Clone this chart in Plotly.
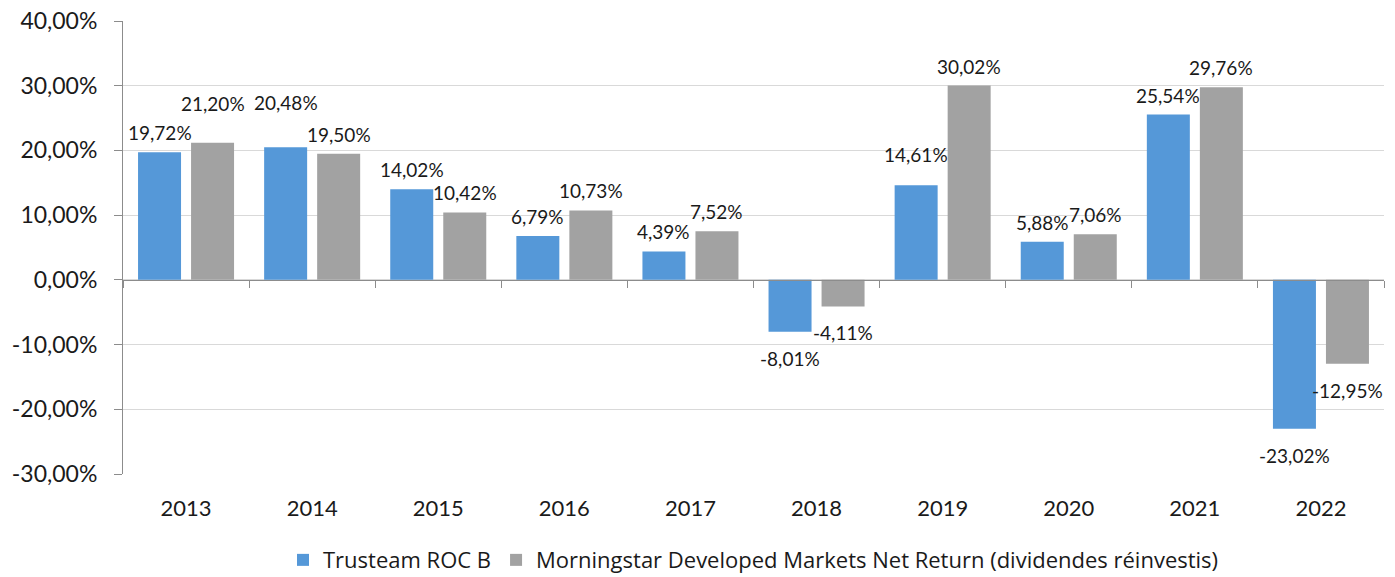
import plotly.graph_objects as go

years = ["2013", "2014", "2015", "2016", "2017", "2018", "2019", "2020", "2021", "2022"]
trusteam = [19.72, 20.48, 14.02, 6.79, 4.39, -8.01, 14.61, 5.88, 25.54, -23.02]
morningstar = [21.20, 19.50, 10.42, 10.73, 7.52, -4.11, 30.02, 7.06, 29.76, -12.95]
series_names = ["Trusteam ROC B", "Morningstar Developed Markets Net Return (dividendes réinvestis)"]
y_ticks = [-30, -20, -10, 0, 10, 20, 30, 40]


def pct(v):
    return f"{v:.2f}".replace(".", ",") + "%"


FONT = "Lato"
TXT = "#1a1a1a"
BARGAP = 0.159
BARGROUPGAP = 0.189
colors = ["#5598D8", "#A2A2A2"]
# extra upward pixel nudges for labels moved in the original to avoid collisions
label_nudge = {(1, "2013"): 20, (0, "2014"): 25, (0, "2019"): 11}

fig = go.Figure()
for name, vals, col in zip(series_names, [trusteam, morningstar], colors):
    fig.add_trace(go.Bar(
        x=years, y=vals, name=name,
        marker=dict(color=col, line=dict(width=0)),
        hovertemplate="%{x}: %{y:.2f}%<extra></extra>",
    ))

# data labels as annotations on the linear overlay axis (category index units)
slot = (1 - BARGAP) / 2
offsets = [-slot / 2, slot / 2]
annotations = []
for k, (vals, off) in enumerate(zip([trusteam, morningstar], offsets)):
    for i, v in enumerate(vals):
        pos = v >= 0
        annotations.append(dict(
            x=i + off, y=v, xref="x2", yref="y",
            text=pct(v), showarrow=False,
            yanchor="bottom" if pos else "top",
            yshift=(6 + label_nudge.get((k, years[i]), 0)) if pos else -13,
            font=dict(family=FONT, size=19, color=TXT),
        ))

zero_pos = (0 - y_ticks[0]) / (y_ticks[-1] - y_ticks[0])

fig.update_layout(
    width=1395, height=577,
    margin=dict(l=123, r=11, t=21, b=103, autoexpand=False),
    paper_bgcolor="white", plot_bgcolor="white",
    barmode="group", bargap=BARGAP, bargroupgap=BARGROUPGAP,
    font=dict(family=FONT, color=TXT),
    showlegend=True,
    legend=dict(orientation="h", x=0.5, xanchor="center", y=-0.19, yanchor="middle",
                font=dict(family="Open Sans", size=22, color=TXT),
                traceorder="normal"),
    annotations=annotations,
    xaxis=dict(type="category", showline=False, showgrid=False, ticks="", automargin=False,
               tickfont=dict(family=FONT, size=22, color=TXT), ticklabelstandoff=19),
    xaxis2=dict(overlaying="x", anchor="free", position=zero_pos, range=[-0.5, 9.5],
                tick0=-0.5, dtick=1, ticks="outside", ticklen=7, tickcolor="#8C8C8C",
                showline=True, linecolor="#8C8C8C", linewidth=1, showgrid=False,
                showticklabels=False, zeroline=False, fixedrange=True, automargin=False),
    yaxis=dict(range=[y_ticks[0], y_ticks[-1]], tickvals=y_ticks,
               ticktext=[pct(t) for t in y_ticks], automargin=False,
               showgrid=True, gridcolor="#D9D9D9", gridwidth=1,
               zeroline=False, showline=True, linecolor="#8C8C8C", linewidth=1,
               ticks="outside", ticklen=8, tickcolor="#8C8C8C", ticklabelstandoff=12,
               tickfont=dict(family=FONT, size=23, color=TXT)),
)

fig.write_html(
    "out.html",
    config={"displayModeBar": False},
    post_script="document.body.style.margin='0';document.body.style.overflow='hidden';",
)
